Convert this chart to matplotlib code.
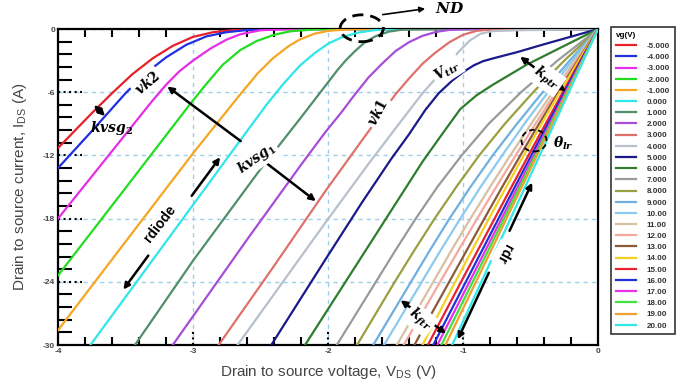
import numpy as np
import matplotlib.pyplot as plt
from matplotlib.patches import Ellipse
from matplotlib.ticker import MultipleLocator

plt.rcParams['axes.unicode_minus'] = False
plt.rcParams['mathtext.fontset'] = 'custom'
plt.rcParams['mathtext.it'] = 'DejaVu Serif:italic:bold'
plt.rcParams['mathtext.rm'] = 'DejaVu Serif:bold'
plt.rcParams['mathtext.sf'] = 'Liberation Sans'
plt.rcParams['font.family'] = ['Liberation Sans', 'DejaVu Sans']

# gate voltages and colours
vg_labels = ['-5.000', '-4.000', '-3.000', '-2.000', '-1.000', '0.000', '1.000', '2.000',
             '3.000', '4.000', '5.000', '6.000', '7.000', '8.000', '9.000', '10.00',
             '11.00', '12.00', '13.00', '14.00', '15.00', '16.00', '17.00', '18.00',
             '19.00', '20.00']
colors = ['#e8202a', '#2030e0', '#e62ee6', '#22dd22', '#f5a623', '#30e6ea', '#4f8f6a',
          '#a64ed8', '#e0706a', '#b8c0cc', '#1a1a8c', '#2e7d2e', '#9a9a9a', '#9aa040',
          '#6fb0e0', '#8ccaf0', '#d8c0a0', '#f5a8a0', '#8b5a3a', '#f5d020', '#e82030',
          '#2030d8', '#e830e8', '#40e040', '#f0a030', '#30e8e8']

# vg = -5 .. 6 : (V, I) read point by point
v_m5 = [-4, -3.75, -3.6, -3.45, -3.3, -3.15, -3.0, -2.85, -2.7, -2.5, -2.2, 0]
i_m5 = [-11.3, -8.0, -6.1, -4.3, -2.8, -1.6, -0.75, -0.3, -0.1, -0.03, 0, 0]
v_m4 = [-4, -3.75, -3.5, -3.35, -3.2, -3.05, -2.9, -2.75, -2.6, -2.4, 0]
i_m4 = [-13.2, -9.7, -6.1, -4.2, -2.7, -1.5, -0.7, -0.3, -0.1, 0, 0]
v_m3 = [-4, -3.6, -3.3, -3.2, -3.1, -3.0, -2.87, -2.75, -2.65, -2.5, -2.3, 0]
i_m3 = [-18.0, -11.6, -6.8, -5.3, -4.0, -3.0, -1.85, -1.0, -0.5, -0.12, 0, 0]
v_m2 = [-4, -3.5, -3.02, -2.9, -2.78, -2.65, -2.53, -2.4, -2.28, -2.1, -1.9, 0]
i_m2 = [-23.4, -15.1, -7.1, -5.2, -3.4, -2.0, -1.15, -0.55, -0.22, -0.04, 0, 0]
v_m1 = [-4, -3.5, -3.0, -2.8, -2.65, -2.52, -2.41, -2.3, -2.21, -2.1, -2.0, -1.85, -1.7, 0]
i_m1 = [-28.6, -20.2, -11.8, -8.6, -6.2, -4.2, -2.8, -1.7, -1.0, -0.45, -0.18, -0.03, 0, 0]
v_0 = [-3.76, -3.0, -2.8, -2.6, -2.45, -2.33, -2.21, -2.1, -2.0, -1.9, -1.78, -1.65, -1.5, 0]
i_0 = [-30, -16.7, -13.2, -9.7, -7.1, -5.2, -3.5, -2.3, -1.4, -0.8, -0.35, -0.1, 0, 0]
v_1 = [-3.43, -3.0, -2.5, -2.2, -2.02, -1.93, -1.87, -1.8, -1.73, -1.65, -1.55, -1.45, -1.3, 0]
i_1 = [-30, -22.0, -13.3, -8.4, -5.4, -3.9, -3.0, -2.1, -1.3, -0.7, -0.25, -0.06, 0, 0]
v_2 = [-3.15, -2.6, -2.2, -2.02, -1.9, -1.8, -1.7, -1.6, -1.5, -1.4, -1.3, -1.2, -1.1, -0.95, 0]
i_2 = [-30, -20.0, -12.9, -9.8, -7.9, -6.2, -4.6, -3.3, -2.1, -1.25, -0.65, -0.28, -0.08, 0, 0]
v_3 = [-2.81, -2.4, -2.02, -1.75, -1.5, -1.4, -1.3, -1.21, -1.1, -1.0, -0.9, -0.8, -0.7, 0]
i_3 = [-30, -22.5, -15.4, -10.6, -6.2, -4.7, -3.3, -2.3, -1.25, -0.55, -0.18, -0.04, 0, 0]
v_4 = [-2.67, -2.3, -2.02, -1.7, -1.45, -1.3, -1.21, -1.12, -1.02, -0.95, -0.87, -0.78, -0.6, -0.3, 0]
i_4 = [-30, -23.4, -18.4, -12.8, -8.6, -6.1, -4.8, -3.4, -2.0, -1.1, -0.45, -0.2, -0.12, -0.06, 0]
v_5 = [-2.42, -2.02, -1.75, -1.53, -1.4, -1.28, -1.18, -1.08, -1.0, -0.92, -0.85, -0.78, -0.6, -0.4, -0.2, 0]
i_5 = [-30, -21.9, -16.5, -12.3, -10.0, -7.7, -6.1, -4.9, -4.1, -3.45, -3.05, -2.8, -2.2, -1.45, -0.73, 0]
v_6 = [-2.17, -1.8, -1.5, -1.3, -1.15, -1.02, -0.9, -0.78, -0.53, -0.25, 0]
i_6 = [-30, -22.6, -16.6, -12.6, -9.9, -7.6, -6.3, -5.3, -3.4, -1.6, 0]

# vg = 7 .. 20 : voltage read at each current level
i_grid = [0, -3, -6, -9, -12, -15, -18, -21, -24, -27, -30]
v_7 = [0, -0.30, -0.57, -0.81, -1.01, -1.19, -1.35, -1.50, -1.645, -1.79, -1.935]
v_8 = [0, -0.25, -0.48, -0.69, -0.88, -1.05, -1.21, -1.36, -1.505, -1.645, -1.785]
v_9 = [0, -0.21, -0.41, -0.60, -0.78, -0.945, -1.10, -1.245, -1.385, -1.525, -1.665]
v_10 = [0, -0.19, -0.37, -0.545, -0.71, -0.87, -1.02, -1.165, -1.305, -1.445, -1.585]
v_11 = [0, -0.17, -0.335, -0.495, -0.65, -0.80, -0.945, -1.085, -1.22, -1.355, -1.49]
v_12 = [0, -0.158, -0.313, -0.463, -0.61, -0.754, -0.895, -1.033, -1.169, -1.304, -1.439]
v_13 = [0, -0.15, -0.295, -0.437, -0.575, -0.71, -0.842, -0.972, -1.102, -1.232, -1.36]
v_14 = [0, -0.143, -0.283, -0.418, -0.55, -0.68, -0.808, -0.933, -1.057, -1.179, -1.30]
v_15 = [0, -0.13, -0.26, -0.388, -0.515, -0.641, -0.766, -0.89, -1.014, -1.137, -1.26]
v_16 = [0, -0.125, -0.249, -0.372, -0.494, -0.616, -0.737, -0.858, -0.979, -1.10, -1.22]
v_17 = [0, -0.119, -0.238, -0.357, -0.476, -0.595, -0.714, -0.833, -0.952, -1.071, -1.19]
v_18 = [0, -0.116, -0.232, -0.348, -0.464, -0.58, -0.696, -0.812, -0.928, -1.044, -1.16]
v_19 = [0, -0.113, -0.226, -0.339, -0.452, -0.565, -0.678, -0.791, -0.904, -1.017, -1.13]
v_20 = [0, -0.108, -0.216, -0.324, -0.432, -0.54, -0.648, -0.756, -0.864, -0.972, -1.08]

curves = [(v_m5, i_m5), (v_m4, i_m4), (v_m3, i_m3), (v_m2, i_m2), (v_m1, i_m1), (v_0, i_0),
          (v_1, i_1), (v_2, i_2), (v_3, i_3), (v_4, i_4), (v_5, i_5), (v_6, i_6)]
for v in [v_7, v_8, v_9, v_10, v_11, v_12, v_13, v_14, v_15, v_16, v_17, v_18, v_19, v_20]:
    curves.append((v, i_grid))

fig = plt.figure(figsize=(6.81, 3.89), dpi=100)
ax = fig.add_axes([58 / 681, 44 / 389, 540 / 681, 316 / 389])

for (v, i), c, lab in zip(curves, colors, vg_labels):
    ax.plot(v, i, color=c, lw=1.6, label=lab, zorder=3)

ax.set_xlim(-4, 0)
ax.set_ylim(-30, 0)
ax.xaxis.set_major_locator(MultipleLocator(1))
ax.xaxis.set_minor_locator(MultipleLocator(0.2))
ax.yaxis.set_major_locator(MultipleLocator(6))
ax.yaxis.set_minor_locator(MultipleLocator(1.2))
ax.grid(True, which='major', color='#9ccfea', ls=(0, (3, 3)), lw=1)
ax.tick_params(axis='x', which='both', direction='in', top=True, length=6, width=1.5,
               labelsize=6, colors='k', labelcolor='#444', pad=2)
ax.tick_params(axis='y', which='both', direction='in', length=10, width=1.5,
               labelsize=6, colors='k', labelcolor='#444', pad=2)
ax.tick_params(which='major', length=0)
for lbl in ax.get_xticklabels() + ax.get_yticklabels():
    lbl.set_fontweight('bold')
# dark dotted stubs at the major ticks
ax.hlines([-6, -12, -18, -24], 0, 0.045, transform=ax.get_yaxis_transform(),
          colors='k', linestyles=':', lw=1.5, zorder=2)
ax.vlines([-3, -2, -1], 0, 0.05, transform=ax.get_xaxis_transform(),
          colors='k', linestyles=':', lw=1.5, zorder=2)
for s in ax.spines.values():
    s.set_linewidth(1.6)

ax.set_xlabel('Drain to source voltage, V$_{\\mathsf{DS}}$ (V)', fontsize=11, color='#444', labelpad=6)
ax.set_ylabel('Drain to source current, I$_{\\mathsf{DS}}$ (A)', fontsize=11, color='#444', labelpad=10)

leg = ax.legend(loc='upper left', bbox_to_anchor=(611 / 681, 1 - 27 / 389), bbox_transform=fig.transFigure,
                fontsize=5.8, title='vg(V)', title_fontsize=5.8, labelspacing=0.44, handlelength=2.5,
                handletextpad=1.3, borderpad=0.6, frameon=True, fancybox=False, borderaxespad=0)
leg.get_frame().set_edgecolor('k')
leg.get_frame().set_linewidth(1.2)
leg._legend_box.align = 'left'
for t in leg.get_texts():
    t.set_fontweight('bold')
    t.set_color('#333')
leg.get_title().set_fontweight('bold')

# annotations
arrow = dict(arrowstyle='-|>', color='k', lw=1.8, mutation_scale=9)
arrow2 = dict(arrowstyle='<|-|>', color='k', lw=1.8, mutation_scale=9)
white = dict(boxstyle='square,pad=0.15', fc='white', ec='none')

ax.add_patch(Ellipse((-1.75, 0.07), 0.32, 2.55, fill=False, ls=(0, (4, 2.5)), lw=2, ec='k', clip_on=False, zorder=6))
ax.annotate('', xy=(-1.26, 1.96), xytext=(-1.615, 1.33), arrowprops=dict(arrowstyle='-|>', color='k', lw=1.2, mutation_scale=8),
            annotation_clip=False)
ax.text(-1.10, 1.95, '$ND$', fontsize=11, ha='center', va='center', clip_on=False)

ax.annotate('', xy=(-3.207, -5.3), xytext=(-2.63, -10.8), arrowprops=arrow, zorder=5)
ax.annotate('', xy=(-2.074, -16.5), xytext=(-2.49, -12.4), arrowprops=arrow, zorder=5)
ax.text(-3.34, -5.1, '$vk2$', fontsize=10, rotation=40, ha='center', va='center', bbox=white, zorder=6)
ax.text(-2.53, -12.25, '$kvsg_1$', fontsize=10, rotation=35, ha='center', va='center', bbox=white, zorder=6)

ax.annotate('', xy=(-3.637, -8.45), xytext=(-3.748, -7.03), arrowprops=arrow2, zorder=5)
ax.text(-3.604, -9.4, '$kvsg_2$', fontsize=10, ha='center', va='center', zorder=6)

ax.annotate('', xy=(-3.528, -24.95), xytext=(-3.319, -21.3), arrowprops=arrow, zorder=5)
ax.annotate('', xy=(-2.787, -11.97), xytext=(-3.022, -16.05), arrowprops=arrow, zorder=5)
ax.text(-3.244, -18.45, 'rdiode', fontsize=10, fontweight='bold', rotation=52, ha='center', va='center',
        bbox=white, zorder=6)

ax.text(-1.63, -7.9, '$vk1$', fontsize=10, rotation=62, ha='center', va='center', bbox=white, zorder=6)
ax.text(-1.12, -3.9, '$V_{ttr}$', fontsize=10, rotation=32, ha='center', va='center', bbox=white, zorder=6)

ax.annotate('', xy=(-0.222, -6.08), xytext=(-0.593, -2.47), arrowprops=arrow2, zorder=5)
ax.text(-0.38, -4.7, '$k_{ptr}$', fontsize=10, rotation=-35, ha='center', va='center', bbox=white, zorder=6)

ax.add_patch(Ellipse((-0.474, -10.6), 0.185, 2.06, fill=False, ls=(0, (3, 2)), lw=1.3, ec='k', zorder=6))
ax.text(-0.257, -10.86, r'$\theta_{lr}$', fontsize=10, ha='center', va='center', zorder=6)

ax.annotate('', xy=(-1.047, -29.7), xytext=(-0.80, -22.9), arrowprops=arrow, zorder=5)
ax.annotate('', xy=(-0.479, -14.34), xytext=(-0.664, -19.4), arrowprops=arrow, zorder=5)
ax.text(-0.70, -21.3, 'rdr', fontsize=10, fontweight='bold', rotation=-118, ha='center', va='center',
        bbox=white, zorder=6)

ax.annotate('', xy=(-1.109, -29.06), xytext=(-1.479, -25.6), arrowprops=arrow2, zorder=5)
ax.text(-1.319, -27.6, '$k_{ftr}$', fontsize=10, rotation=-38, ha='center', va='center', bbox=white, zorder=6)

fig.savefig('out.png', dpi=100)
